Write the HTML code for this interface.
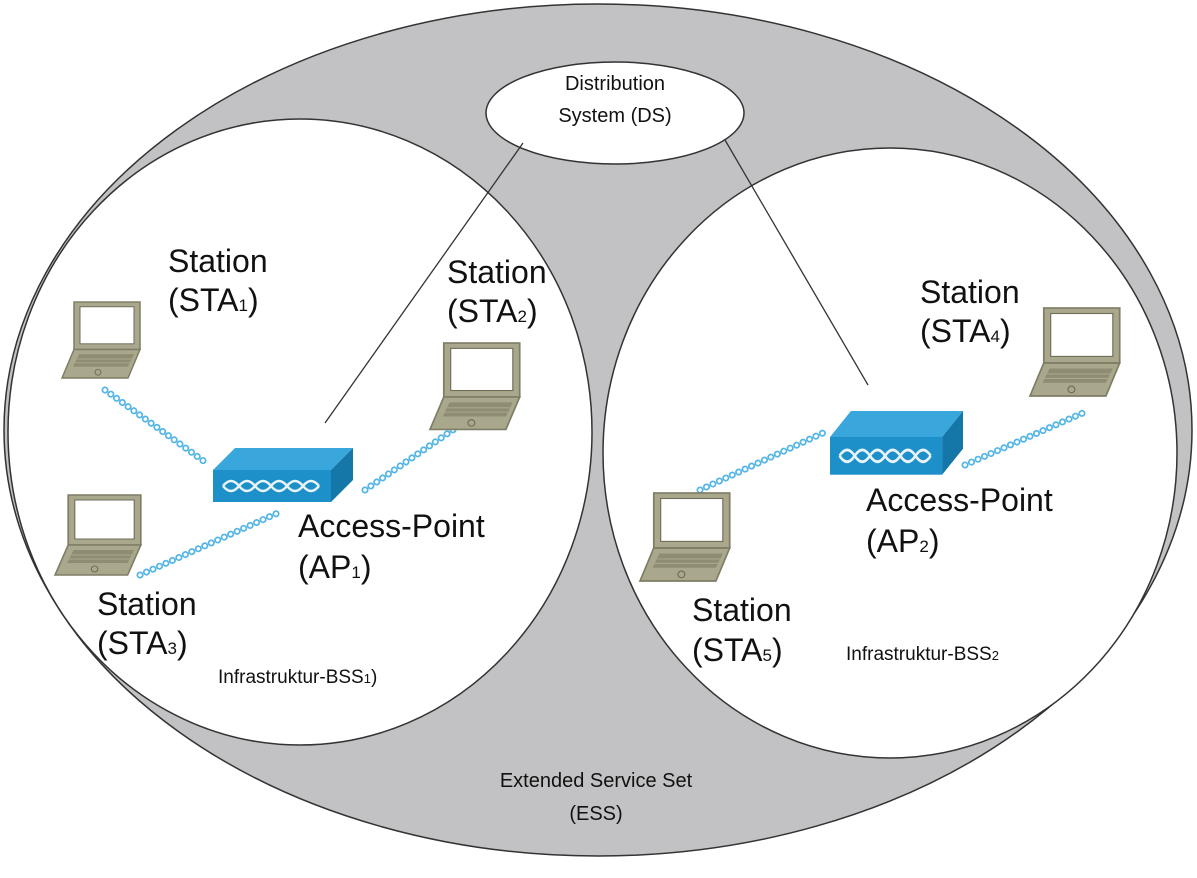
<!DOCTYPE html>
<html><head><meta charset="utf-8"><style>
html,body{margin:0;padding:0;background:#fff}
svg{display:block}
text{font-family:"Liberation Sans",sans-serif;fill:#111}
</style></head><body>
<svg width="1197" height="878" viewBox="0 0 1197 878" xmlns="http://www.w3.org/2000/svg">
<defs>
<g id="lap">
<rect x="12" y="0" width="66" height="50" fill="#a9a78c" stroke="#7f7d66" stroke-width="1.5"/>
<rect x="18" y="5" width="54" height="39" fill="#fff" stroke="#6f6d58" stroke-width="1"/>
<polygon points="12,50 78,50 66,80 0,80" fill="#a9a78c" stroke="#7f7d66" stroke-width="1.5"/>
<polygon points="17,55 72,55 66,68 11,68" fill="#8e8c72"/>
<line x1="15" y1="60" x2="70" y2="60" stroke="#a9a78c" stroke-width="1"/>
<line x1="13" y1="64" x2="68" y2="64" stroke="#a9a78c" stroke-width="1"/>
<circle cx="36" cy="74" r="3" fill="none" stroke="#6f6d58" stroke-width="1"/>
</g>
<g id="ap">
<polygon points="0,22 22,0 140,0 118,22" fill="#3aa7dc"/>
<polygon points="118,22 140,0 140,32 118,54" fill="#1577a8"/>
<rect x="0" y="22" width="118" height="32" fill="#1d8fc9"/>
<g fill="none" stroke="#e8f4fa" stroke-width="2.5">
<path d="M10,38 q8,-10 16,0 q8,10 16,0 q8,-10 16,0 q8,10 16,0 q8,-10 16,0 q8,10 16,0"/>
<path d="M10,38 q8,10 16,0 q8,-10 16,0 q8,10 16,0 q8,-10 16,0 q8,10 16,0 q8,-10 16,0"/>
</g>
</g>
</defs>
<ellipse cx="598" cy="430" rx="594" ry="426" fill="#c2c1c3" stroke="#333" stroke-width="1.5"/>
<ellipse cx="300" cy="432" rx="292" ry="313" fill="#fff" stroke="#333" stroke-width="1.5"/>
<ellipse cx="890" cy="453" rx="287" ry="305" fill="#fff" stroke="#333" stroke-width="1.5"/>
<ellipse cx="615" cy="113" rx="129" ry="51" fill="#fff" stroke="#333" stroke-width="1.5"/>
<line x1="523" y1="143" x2="325" y2="423" stroke="#333" stroke-width="1.3"/>
<line x1="725" y1="140" x2="868" y2="385" stroke="#333" stroke-width="1.3"/>
<g stroke-linecap="round" fill="none">
<g stroke="#55b6e6" stroke-width="7" stroke-dasharray="0.1 7">
<line x1="105" y1="390" x2="205" y2="462"/><line x1="365" y1="490" x2="460" y2="425"/>
<line x1="140" y1="575" x2="280" y2="512"/><line x1="700" y1="490" x2="825" y2="432"/>
<line x1="965" y1="465" x2="1085" y2="412"/>
</g>
<g stroke="#fff" stroke-width="3.5" stroke-dasharray="0.1 7">
<line x1="105" y1="390" x2="205" y2="462"/><line x1="365" y1="490" x2="460" y2="425"/>
<line x1="140" y1="575" x2="280" y2="512"/><line x1="700" y1="490" x2="825" y2="432"/>
<line x1="965" y1="465" x2="1085" y2="412"/>
</g>
</g>
<use href="#lap" transform="translate(62,302) scale(1.0,0.95)"/>
<use href="#lap" transform="translate(430,343) scale(1.15,1.08)"/>
<use href="#lap" transform="translate(55,495) scale(1.1,1.0)"/>
<use href="#lap" transform="translate(640,493) scale(1.15,1.1)"/>
<use href="#lap" transform="translate(1030,308) scale(1.15,1.1)"/>
<use href="#ap" transform="translate(213,448)"/>
<use href="#ap" transform="translate(830,411) scale(0.95,1.18)"/>
<g font-size="32">
<text x="168" y="272">Station</text><text x="168" y="311">(STA<tspan font-size="17">1</tspan>)</text>
<text x="447" y="283">Station</text><text x="447" y="322">(STA<tspan font-size="17">2</tspan>)</text>
<text x="920" y="303">Station</text><text x="920" y="342">(STA<tspan font-size="17">4</tspan>)</text>
<text x="97" y="615">Station</text><text x="97" y="654">(STA<tspan font-size="17">3</tspan>)</text>
<text x="692" y="621">Station</text><text x="692" y="661">(STA<tspan font-size="17">5</tspan>)</text>
<text x="298" y="537">Access-Point</text><text x="298" y="578">(AP<tspan font-size="17">1</tspan>)</text>
<text x="866" y="511">Access-Point</text><text x="866" y="552">(AP<tspan font-size="17">2</tspan>)</text>
</g>
<g font-size="19" fill="#222">
<text x="218" y="683">Infrastruktur-BSS<tspan font-size="13">1</tspan>)</text>
<text x="846" y="660">Infrastruktur-BSS<tspan font-size="13">2</tspan></text>
</g>
<g font-size="20" text-anchor="middle">
<text x="615" y="90">Distribution</text><text x="615" y="122">System (DS)</text>
<text x="596" y="787">Extended Service Set</text><text x="596" y="820">(ESS)</text>
</g>
</svg>
</body></html>
